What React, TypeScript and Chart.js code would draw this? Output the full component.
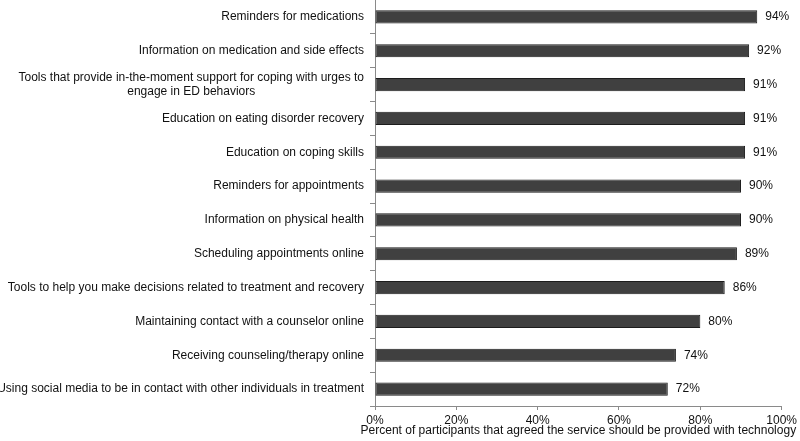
import React, { useEffect, useRef } from "react";
import { Chart, registerables } from "chart.js";
Chart.register(...registerables);

const categories: (string | string[])[] = [
  "Reminders for medications",
  "Information on medication and side effects",
  ["Tools that provide in-the-moment support for coping with urges to", "engage in ED behaviors"],
  "Education on eating disorder recovery",
  "Education on coping skills",
  "Reminders for appointments",
  "Information on physical health",
  "Scheduling appointments online",
  "Tools to help you make decisions related to treatment and recovery",
  "Maintaining contact with a counselor online",
  "Receiving counseling/therapy online",
  "Using social media to be in contact with other individuals in treatment",
];
const values = [94, 92, 91, 91, 91, 90, 90, 89, 86, 80, 74, 72];
const xMin = 0;
const xMax = 100;
const xStep = 20;
const axisTitle =
  "Percent of participants that agreed the service should be provided with technology";

const FONT = "'Liberation Sans', Arial, sans-serif";
const AXIS_GRAY = "#8a8a8a";

const catLabelPlugin = {
  id: "catLabels",
  afterDraw(chart: any) {
    const ctx = chart.ctx;
    const y = chart.scales.y;
    const x = chart.scales.x;
    ctx.save();
    ctx.font = `12px ${FONT}`;
    ctx.fillStyle = "#111";
    ctx.textBaseline = "middle";
    ctx.textAlign = "center";
    const right = y.right - 11;
    categories.forEach((lab, i) => {
      const cy = y.getPixelForTick(i);
      const lines = Array.isArray(lab) ? lab : [lab];
      const maxW = Math.max(...lines.map((l) => ctx.measureText(l).width));
      const lh = 13.7;
      lines.forEach((l, j) => {
        const ly = cy + (j - (lines.length - 1) / 2) * lh;
        ctx.fillText(l, right - maxW / 2, ly);
      });
    });
    // axis title (drawn without width compression)
    ctx.font = `12px ${FONT}`;
    ctx.textAlign = "center";
    ctx.fillText(axisTitle, (x.left + x.right) / 2, x.bottom - 10);
    ctx.restore();
  },
};

const valueLabelPlugin = {
  id: "valueLabels",
  afterDatasetsDraw(chart: any) {
    const ctx = chart.ctx;
    const meta = chart.getDatasetMeta(0);
    ctx.save();
    ctx.font = `12px ${FONT}`;
    ctx.fillStyle = "#111";
    ctx.textBaseline = "middle";
    ctx.textAlign = "left";
    meta.data.forEach((bar: any, i: number) => {
      ctx.fillText(values[i] + "%", bar.x + 8, bar.y);
    });
    ctx.restore();
  },
};

export default function App() {
  const ref = useRef<HTMLCanvasElement>(null);
  useEffect(() => {
    if (!ref.current) return;
    const chart = new Chart(ref.current, {
      type: "bar",
      data: {
        labels: categories as any,
        datasets: [
          {
            data: values,
            backgroundColor: "#404040",
            borderColor: "#1c1c1c",
            borderWidth: 1,
            borderSkipped: false,
            barPercentage: 0.39,
            categoryPercentage: 1,
          },
        ],
      },
      options: {
        indexAxis: "y",
        animation: false,
        responsive: false,
        layout: { padding: { left: 0, right: 17, top: 0, bottom: 0 } },
        plugins: { legend: { display: false }, tooltip: { enabled: false } },
        scales: {
          y: {
            type: "category",
            ticks: { display: false },
            grid: {
              drawOnChartArea: false,
              drawTicks: true,
              tickLength: 5,
              color: AXIS_GRAY,
              offset: true,
            },
            border: { color: AXIS_GRAY, width: 1 },
            afterFit: (s: any) => {
              s.width = 375;
            },
          },
          x: {
            min: xMin,
            max: xMax,
            ticks: {
              stepSize: xStep,
              callback: (v: any) => v + "%",
              color: "#111",
              font: { size: 12, family: FONT },
              padding: 3,
              maxRotation: 0,
            },
            grid: {
              drawOnChartArea: false,
              drawTicks: true,
              tickLength: 4,
              color: AXIS_GRAY,
            },
            border: { color: AXIS_GRAY, width: 1 },
            title: { display: false },
            afterFit: (s: any) => {
              s.height = 35;
            },
          },
        },
      },
      plugins: [catLabelPlugin, valueLabelPlugin],
    } as any);
    return () => chart.destroy();
  }, []);
  return (
    <div style={{ position: "absolute", left: 0, top: 0, width: 800, height: 441, background: "#fff" }}>
      <canvas ref={ref} width={800} height={441} style={{ display: "block" }} />
    </div>
  );
}
